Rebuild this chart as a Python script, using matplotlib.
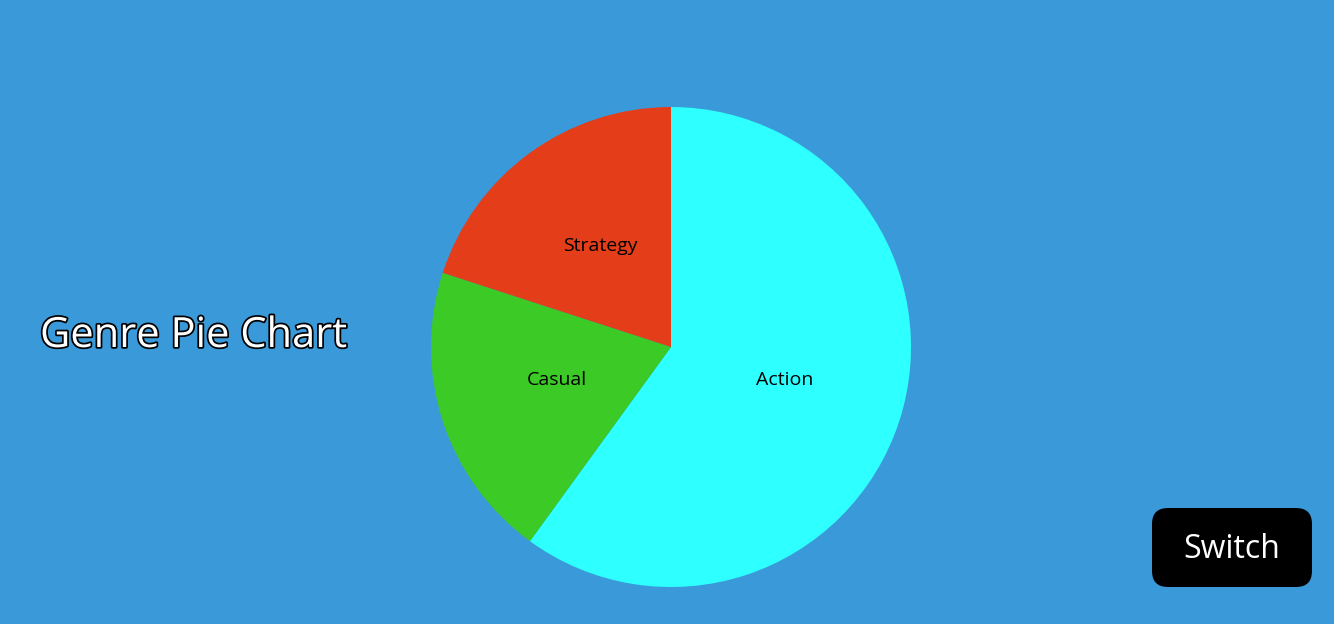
import matplotlib.pyplot as plt
import matplotlib.patheffects as pe
from matplotlib.patches import FancyBboxPatch

plt.rcParams['font.family'] = ['Open Sans', 'DejaVu Sans']

genres = ["Action", "Casual", "Strategy"]
counts = [3, 1, 1]
colors = ["#2effff", "#3cca26", "#e33d19"]

bg = "#3a9ad9"
W, H = 1334, 624
fig = plt.figure(figsize=(W / 100, H / 100), dpi=100, facecolor=bg)

# pie centred at (671, 347) px, radius 240 px
cx, cy, r = 671, 347, 240
ax = fig.add_axes([(cx - r) / W, (H - cy - r) / H, 2 * r / W, 2 * r / H])
wedges, texts = ax.pie(counts, labels=genres, colors=colors, startangle=90,
                       counterclock=False, labeldistance=0.5,
                       textprops={'fontsize': 14, 'color': 'black'},
                       wedgeprops={'linewidth': 0})
for t in texts:
    x, y = t.get_position()
    t.set_position((x, y + 0.017))
    t.set_ha('center')
    t.set_va('center')
ax.set_xlim(-1, 1)
ax.set_ylim(-1, 1)
ax.set_aspect('equal')
ax.axis('off')

# title on the left
fig.text(40 / W, 1 - 336 / H, "Genre Pie Chart", fontsize=30, color='white',
         ha='left', va='center',
         path_effects=[pe.withStroke(linewidth=2.5, foreground='black')])

# switch button
bx0, by0, bx1, by1 = 1152, 508, 1312, 587
btn = FancyBboxPatch((bx0 / W, 1 - by1 / H), (bx1 - bx0) / W, (by1 - by0) / H,
                     boxstyle="round,pad=0,rounding_size=0.012",
                     transform=fig.transFigure, facecolor='black', edgecolor='none',
                     mutation_aspect=W / H)
fig.patches.append(btn)
fig.text((bx0 + bx1) / 2 / W, 1 - (by0 + by1 + 4) / 2 / H, "Switch", fontsize=23,
         color='white', ha='center', va='center')

fig.savefig("out.png", dpi=100, facecolor=bg)
